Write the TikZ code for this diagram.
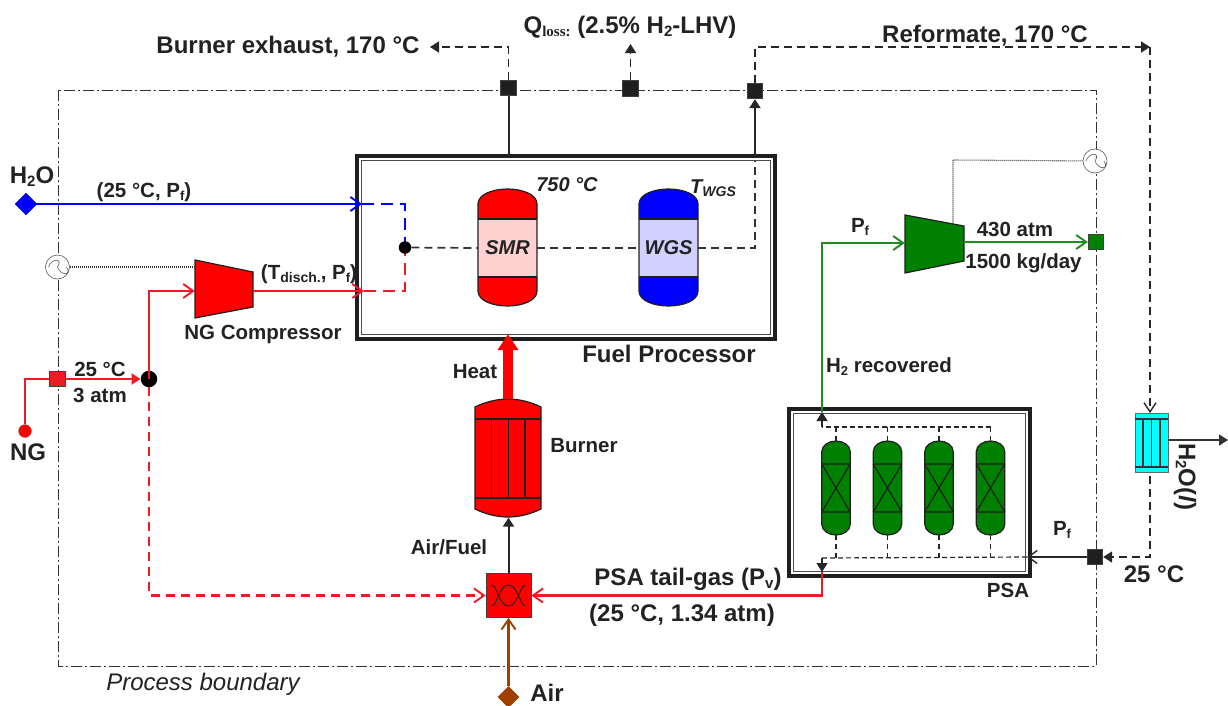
\documentclass[tikz,border=0pt]{standalone}
\usepackage{fontspec}
\setmainfont{Liberation Sans}
\newfontfamily\serifq{Liberation Serif}
\usetikzlibrary{arrows.meta,shapes.geometric}
\definecolor{txt}{HTML}{222222}
\definecolor{ngreen}{HTML}{008000}
\definecolor{lgreen}{HTML}{1E8C1E}
\definecolor{nred}{HTML}{ED1C24}
\definecolor{brownair}{HTML}{A04000}
\definecolor{ncyan}{HTML}{00FFFF}
\tikzset{
 x=1pt,y=-1pt,
 lbl/.style={inner sep=0pt,text=txt,font=\fontsize{20.5}{22}\selectfont\bfseries},
 lblb/.style={inner sep=0pt,text=txt,font=\fontsize{24}{26}\selectfont\bfseries},
 lbli/.style={inner sep=0pt,text=txt,font=\fontsize{20}{22}\selectfont\bfseries\itshape},
 open/.style={-{Straight Barb[length=10pt,width=14pt,line width=1.9pt]}},
 solidtip/.style={-{Triangle[length=9pt,width=11pt]}},
 ln/.style={line width=2.2pt},
 dsh/.style={line width=1.7pt,dash pattern=on 8pt off 5pt},
 bdry/.style={line width=0.9pt,draw=black!80,dash pattern=on 11pt off 3pt on 2pt off 3pt},
 sq/.style={rectangle,draw=black!75,line width=.8pt,minimum size=15.5pt,inner sep=0pt},
 gen/.style={circle,draw=black!65,fill=white,line width=.6pt,minimum size=24pt,inner sep=0pt},
 dott/.style={line width=1.1pt,draw=black!80,dash pattern=on 1pt off 1pt},
 vess/.style={draw=black!88,line width=1.2pt},
}
\newcommand{\dbox}[4]{%
 \draw[line width=4.5pt,draw=black!88] (#1,#2) rectangle (#3,#4);
 \draw[line width=.8pt,draw=black!70] (#1+4.5,#2+4.5) rectangle (#3-4.5,#4-4.5);}
\newcommand{\reactor}[3]{% xcenter, end colour, mid colour
 \fill[#2] (#1-29.5,219) -- (#1-29.5,204) .. controls (#1-29.5,194) and (#1-14,189) .. (#1,189) .. controls (#1+14,189) and (#1+29.5,194) .. (#1+29.5,204) -- (#1+29.5,219) -- cycle;
 \fill[#2] (#1-29.5,277) -- (#1-29.5,291) .. controls (#1-29.5,301) and (#1-14,306) .. (#1,306) .. controls (#1+14,306) and (#1+29.5,301) .. (#1+29.5,291) -- (#1+29.5,277) -- cycle;
 \fill[#3] (#1-29.5,219) rectangle (#1+29.5,277);
 \draw[vess] (#1-29.5,204) .. controls (#1-29.5,194) and (#1-14,189) .. (#1,189) .. controls (#1+14,189) and (#1+29.5,194) .. (#1+29.5,204) -- (#1+29.5,291) .. controls (#1+29.5,301) and (#1+14,306) .. (#1,306) .. controls (#1-14,306) and (#1-29.5,301) .. (#1-29.5,291) -- cycle;
 \draw[vess] (#1-29.5,219) -- (#1+29.5,219) (#1-29.5,277) -- (#1+29.5,277);}
\newcommand{\bed}[1]{%
 \draw[vess,fill=ngreen] (#1-14.3,452) .. controls (#1-14.3,445) and (#1-7,441) .. (#1,441) .. controls (#1+7,441) and (#1+14.3,445) .. (#1+14.3,452) -- (#1+14.3,524) .. controls (#1+14.3,531) and (#1+7,535) .. (#1,535) .. controls (#1-7,535) and (#1-14.3,531) .. (#1-14.3,524) -- cycle;
 \draw[vess] (#1-14.3,464) -- (#1+14.3,464) (#1-14.3,512) -- (#1+14.3,512)
  (#1-14.3,464) -- (#1+14.3,512) (#1+14.3,464) -- (#1-14.3,512);
 \draw[line width=1.2pt,draw=black!85,dash pattern=on 5pt off 4pt] (#1,441) -- (#1,427);
 \draw[line width=1.2pt,draw=black!85,dash pattern=on 5pt off 4pt] (#1,535) -- (#1,558);}
\begin{document}
\begin{tikzpicture}
\useasboundingbox (0,0) rectangle (1228,705);
% boundary
\draw[bdry] (58,90) rectangle (1096,666);
% boxes
\dbox{357}{156}{775}{339}
\dbox{789}{409}{1030}{576}
% reactors
\reactor{507.5}{red}{red!18}
\reactor{668.5}{blue}{blue!18}
\node[inner sep=0pt,text=txt,font=\fontsize{20}{22}\selectfont\bfseries\itshape] (smr) at (507.5,248) {SMR};
\node[inner sep=0pt,text=txt,font=\fontsize{20}{22}\selectfont\bfseries\itshape] (wgs) at (668.5,248) {WGS};
% named points
\coordinate (jn) at (405,247.5);
\coordinate (smrL) at (478,248); \coordinate (smrR) at (537,248);
\coordinate (wgsL) at (639,248); \coordinate (wgsR) at (698,248);
\node[sq,fill=black!88] (s1) at (508.5,88) {};
\node[sq,fill=black!88] (s2) at (630.5,88.5) {};
\node[sq,fill=black!88] (s3) at (755,91) {};
\node[sq,fill=black!88] (s4) at (1095,557) {};
\node[sq,fill=nred] (sng) at (57.5,379) {};
\node[sq,fill=ngreen] (sh2) at (1096,242) {};
\node[gen] (g1) at (57.5,267) {};
\node[gen] (g2) at (1095,161) {};
\foreach \g in {g1,g2}{\draw[line width=.6pt,draw=black!65] (\g.center) ++(-9,0) .. controls +(3,-9) and +(6,-9) .. ++(9,0) .. controls +(3,9) and +(6,9) .. ++(9,0);}
% H2O line
\node[diamond,fill=blue,draw=blue!70!black,line width=.4pt,minimum size=22pt,inner sep=0pt] (h2o) at (26,204) {};
\coordinate (a1) at (362,204);
\draw[ln,blue,open] (h2o.center) -- (a1);
\draw[line width=2.2pt,blue,dash pattern=on 12pt off 7pt] (a1) -- (405,204) -- (jn);
% NG
\node[circle,fill=red,draw=black!50,line width=.4pt,minimum size=13pt,inner sep=0pt] (ng) at (25,431) {};
\node[circle,fill=black,minimum size=16.5pt,inner sep=0pt] (j2) at (149,379) {};
\draw[ln,nred] (ng) -- (25,379) -- (sng.west);
\draw[ln,nred,solidtip] (sng.east) -- (j2.west);
% compressor NG
\node[inner sep=0pt,minimum size=0pt] (cA) at (195,291) {};
\node[inner sep=0pt,minimum size=0pt] (cB) at (253,291) {};
\draw[ln,nred,open] (j2.center) -- (149,291) -- (cA);
\draw[vess,fill=red] (195,260) -- (253,272) -- (253,307) -- (195,318) -- cycle;
\coordinate (a2) at (364,291);
\draw[ln,nred,open] (cB) -- (a2);
\draw[line width=2.2pt,nred,dash pattern=on 12pt off 7pt] (a2) -- (405,291) -- (jn);
\draw[dott] (g1) -- (195,267);
% junction and process line
\node[circle,fill=black,minimum size=12.5pt,inner sep=0pt] (j1) at (jn) {};
\draw[dsh,black!80] (j1) -- (smrL);
\draw[dsh,black!80] (smrR) -- (wgsL);
\draw[dsh,black!80] (wgsR) -- (755,248) -- (755,161);
\draw[line width=2pt,black!85,solidtip] (755,157) -- (s3.south);
\draw[line width=2pt,black!85] (508.5,157) -- (s1.south);
% outlets
\coordinate (e1) at (430,47);
\draw[dsh,black!85,solidtip] (s1.north) -- (508.5,47) -- (e1);
\coordinate (e2) at (630.5,44);
\draw[dsh,black!85,solidtip] (s2.north) -- (e2);
\coordinate (rc) at (1150,47);
\draw[dsh,black!85,solidtip] (s3.north) -- (755,47) -- (rc);
% cooler
\node[rectangle,draw=black!60,fill=ncyan,line width=.6pt,minimum width=33pt,minimum height=59pt,inner sep=0pt] (cool) at (1151.5,442.5) {};
\draw[line width=1.1pt,black!80] (1135,419) -- (1168,419) (1135,467) -- (1168,467) (1143,419) -- (1143,467) (1151.5,419) -- (1151.5,467) (1160,419) -- (1160,467);
\draw[dsh,black!85,-{Straight Barb[length=9pt,width=12pt,line width=1.4pt]}] (rc) -- (1150,413);
\coordinate (w1) at (1150,476);
\coordinate (out) at (1228,440);
\draw[line width=1.5pt,black!80,solidtip] (1168,440) -- (out);
\draw[dsh,black!85,solidtip] (w1) -- (1150,557) -- (s4.east);
\coordinate (psaR) at (1027,557);
\draw[line width=2pt,black!85,-{Straight Barb[length=9pt,width=13pt,line width=1.4pt]}] (s4.west) -- (psaR);
% PSA internals
\bed{836}\bed{887.5}\bed{939}\bed{990.5}
\coordinate (hT) at (822,427); \coordinate (hB) at (822,558);
\draw[line width=1.2pt,draw=black!85,dash pattern=on 5pt off 3pt] (990.5,427) -- (hT);
\draw[line width=1.2pt,draw=black!85,dash pattern=on 5pt off 3pt] (psaR) -- (hB);
\coordinate (tT) at (822,412); \coordinate (tB) at (822,572);
\draw[line width=1.2pt,black!85,solidtip] (hT) -- (tT);
\draw[line width=1.2pt,black!85,solidtip] (hB) -- (tB);
% H2 line
\node[inner sep=0pt,minimum size=0pt] (cC) at (905,243) {};
\node[inner sep=0pt,minimum size=0pt] (cD) at (964,242) {};
\draw[ln,lgreen,open] (tT) -- (822,243) -- (cC);
\draw[vess,fill=ngreen] (905,215) -- (964,226) -- (964,261) -- (905,273) -- cycle;
\draw[ln,lgreen,open] (cD) -- (sh2.west);
\draw[dott] (g2) -- (953,160) -- (953,224);
% mixer
\node[rectangle,draw=black!75,fill=red,line width=.7pt,minimum width=45pt,minimum height=44pt,inner sep=0pt] (mix) at (508.5,595.5) {};
\draw[line width=1pt,black!85] (491.7,585) .. controls (497,585) and (499,606) .. (508.5,606) .. controls (518,606) and (520,585) .. (525.5,585);
\draw[line width=1pt,black!85] (491.7,606) .. controls (497,606) and (499,585) .. (508.5,585) .. controls (518,585) and (520,606) .. (525.5,606);
\draw[line width=2.2pt,nred,dash pattern=on 9pt off 6pt,-{Straight Barb[length=10pt,width=14pt,line width=1.9pt]}] (j2.south) -- (149,595.5) -- (mix.west);
\coordinate (tailc) at (822,572);
\draw[ln,nred,open] (tailc) -- (822,595.5) -- (mix.east);
\node[diamond,fill=brownair,minimum size=22pt,inner sep=0pt] (air) at (508.5,697) {};
\draw[ln,brownair,open] (air) -- (mix.south);
% burner
\draw[vess,fill=red] (475,407) .. controls (485,402) and (497,399) .. (508,399) .. controls (519,399) and (531,402) .. (541,407) -- (541,509) .. controls (531,514) and (519,517) .. (508,517) .. controls (497,517) and (485,514) .. (475,509) -- cycle;
\draw[vess] (475,419) -- (541,419) (475,498) -- (541,498) (491.5,419) -- (491.5,498) (508.5,419) -- (508.5,498) (525,419) -- (525,498);
\node[inner sep=0pt,minimum size=0pt] (bB) at (508.5,517.5) {};
\draw[line width=2pt,black!85,solidtip] (mix.north) -- (bB);
\node[inner sep=0pt,minimum size=0pt] (bN) at (508,399) {};
\node[inner sep=0pt,minimum size=0pt] (fpB) at (508,334) {};
\draw[-{Triangle[length=16pt,width=20pt]},line width=10pt,red] (bN) -- (fpB);
% labels
\node[lblb] (t1) at (288,47) {Burner exhaust, 170 °C};
\node[lblb] (t2) at (630,27) {Q\raisebox{-3pt}{\fontsize{15}{16}\selectfont\serifq\bfseries loss:} (2.5\% H\raisebox{-3pt}{\fontsize{15}{16}\selectfont 2}-LHV)};
\node[lblb] (t3) at (985,36) {Reformate, 170 °C};
\node[lblb] (t4) at (32,177) {H\raisebox{-3pt}{\fontsize{15}{16}\selectfont 2}O};
\node[lbl] (t5) at (144,192) {(25 °C, P\raisebox{-3pt}{\fontsize{13}{14}\selectfont f})};
\node[lbl] (t6) at (309,274) {(T\raisebox{-3pt}{\fontsize{14}{15}\selectfont disch.}, P\raisebox{-3pt}{\fontsize{13}{14}\selectfont f})};
\node[lbl] (t7) at (263,334) {NG Compressor};
\node[lbl] (t8) at (100,369) {25 °C};
\node[lbl] (t9) at (100,395) {3 atm};
\node[lblb] (t10) at (28,452) {NG};
\node[lbl] (t11) at (475,372) {Heat};
\node[lbl] (t12) at (584,446) {Burner};
\node[lbl] (t13) at (449,547) {Air/Fuel};
\node[lblb] (t14) at (547,692.5) {Air};
\node[lblb] (t15) at (688,579) {PSA tail-gas (P\raisebox{-3pt}{\fontsize{15}{16}\selectfont v})};
\node[lblb] (t16) at (682,615) {(25 °C, 1.34 atm)};
\node[lblb] (t17) at (669,354) {Fuel Processor};
\node[lbl] (t18) at (889,367) {H\raisebox{-3pt}{\fontsize{13}{14}\selectfont 2} recovered};
\node[lbl] (t19) at (1008,590) {PSA};
\node[lbl] (t20) at (860,227) {P\raisebox{-3pt}{\fontsize{13}{14}\selectfont f}};
\node[lbl] (t21) at (1015,229) {430 atm};
\node[lbl] (t22) at (1023.5,263) {1500 kg/day};
\node[lbl] (t23) at (1062,530) {P\raisebox{-3pt}{\fontsize{13}{14}\selectfont f}};
\node[lblb] (t24) at (1154,574) {25 °C};
\node[lbl,rotate=-90,font=\fontsize{24}{26}\selectfont\bfseries] (t25) at (1185,477) {H\raisebox{-3pt}{\fontsize{15}{16}\selectfont 2}O(\textit{l})};
\node[lbli] (t26) at (567,185) {750 °C};
\node[lbli] (t27) at (713,188) {T\raisebox{-3pt}{\fontsize{14}{15}\selectfont WGS}};
\node[inner sep=0pt,text=txt,font=\fontsize{24}{26}\selectfont\itshape] (t28) at (203,684) {Process boundary};
\end{tikzpicture}
\end{document}
